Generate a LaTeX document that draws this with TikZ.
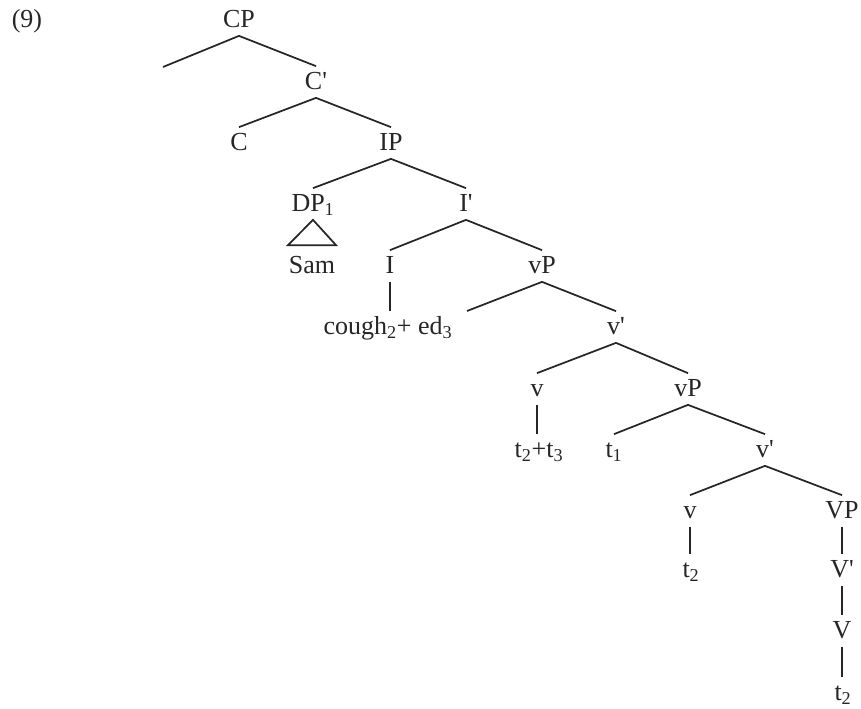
\documentclass[tikz,border=0pt]{standalone}
\usepackage{fontspec}
\setmainfont{Liberation Serif}
\usetikzlibrary{calc}

\begin{document}
\begin{tikzpicture}[x=0.75pt, y=-0.75pt, line width=1.3pt, draw=black!85,
  every node/.style={font=\fontsize{19.5}{23}\selectfont, text=black!85},
  lbl/.style={anchor=base, inner xsep=0pt, inner ysep=3.9pt, text height=12.6pt, text depth=2.1pt}]
  \useasboundingbox (0,0) rectangle (861,708);
  \node[anchor=base] (ex) at (27,27) {(9)};
  \node[lbl] (cp) at (239,27) {CP};
  \coordinate (cpspec) at (163,67);
  \node[lbl] (cbar) at (316,89) {C\textquotesingle};
  \node[lbl] (c) at (239,150) {C};
  \node[lbl] (ip) at (391,150) {IP};
  \node[lbl] (dp) at (313,211) {DP\textsubscript{1}};
  \node[lbl] (ibar) at (466,211) {I\textquotesingle};
  \node[lbl] (sam) at (312,273) {Sam};
  \node[lbl] (i) at (390,273) {I};
  \node[lbl] (vp) at (542,273) {vP};
  \node[lbl] (cough) at (388,334) {cough\textsubscript{2}+ ed\textsubscript{3}};
  \coordinate (vpspec) at (467,311);
  \node[lbl] (vbar) at (616,334) {v\textquotesingle};
  \node[lbl] (v) at (537,396) {v};
  \node[lbl] (vpb) at (688,396) {vP};
  \node[lbl] (tt) at (539,457) {t\textsubscript{2}+t\textsubscript{3}};
  \node[lbl] (tone) at (614,457) {t\textsubscript{1}};
  \node[lbl] (vbarb) at (765,457) {v\textquotesingle};
  \node[lbl] (vb) at (690,518) {v};
  \node[lbl] (bigvp) at (842,518) {VP};
  \node[lbl] (ttwo) at (691,577) {t\textsubscript{2}};
  \node[lbl] (bigvbar) at (842,577) {V\textquotesingle};
  \node[lbl] (bigv) at (842,638) {V};
  \node[lbl] (ttwob) at (843,700) {t\textsubscript{2}};
  \draw (cp.south) -- (cpspec);
  \draw (cp.south) -- (cbar.north);
  \draw (cbar.south) -- (c.north);
  \draw (cbar.south) -- (ip.north);
  \draw (ip.south) -- (dp.north);
  \draw (ip.south) -- (ibar.north);
  \draw (dp.south) -- ($(sam.north)+(-24,-5)$) -- ($(sam.north)+(24,-5)$) -- cycle;
  \draw (ibar.south) -- (i.north);
  \draw (ibar.south) -- (vp.north);
  \draw (i.south) -- (i.south |- cough.north);
  \draw (vp.south) -- (vpspec);
  \draw (vp.south) -- (vbar.north);
  \draw (vbar.south) -- (v.north);
  \draw (vbar.south) -- (vpb.north);
  \draw (v.south) -- (v.south |- tt.north);
  \draw (vpb.south) -- (tone.north);
  \draw (vpb.south) -- (vbarb.north);
  \draw (vbarb.south) -- (vb.north);
  \draw (vbarb.south) -- (bigvp.north);
  \draw (vb.south) -- (vb.south |- ttwo.north);
  \draw (bigvp.south) -- (bigvp.south |- bigvbar.north);
  \draw (bigvbar.south) -- (bigvbar.south |- bigv.north);
  \draw (bigv.south) -- (bigv.south |- ttwob.north);
\end{tikzpicture}
\end{document}
